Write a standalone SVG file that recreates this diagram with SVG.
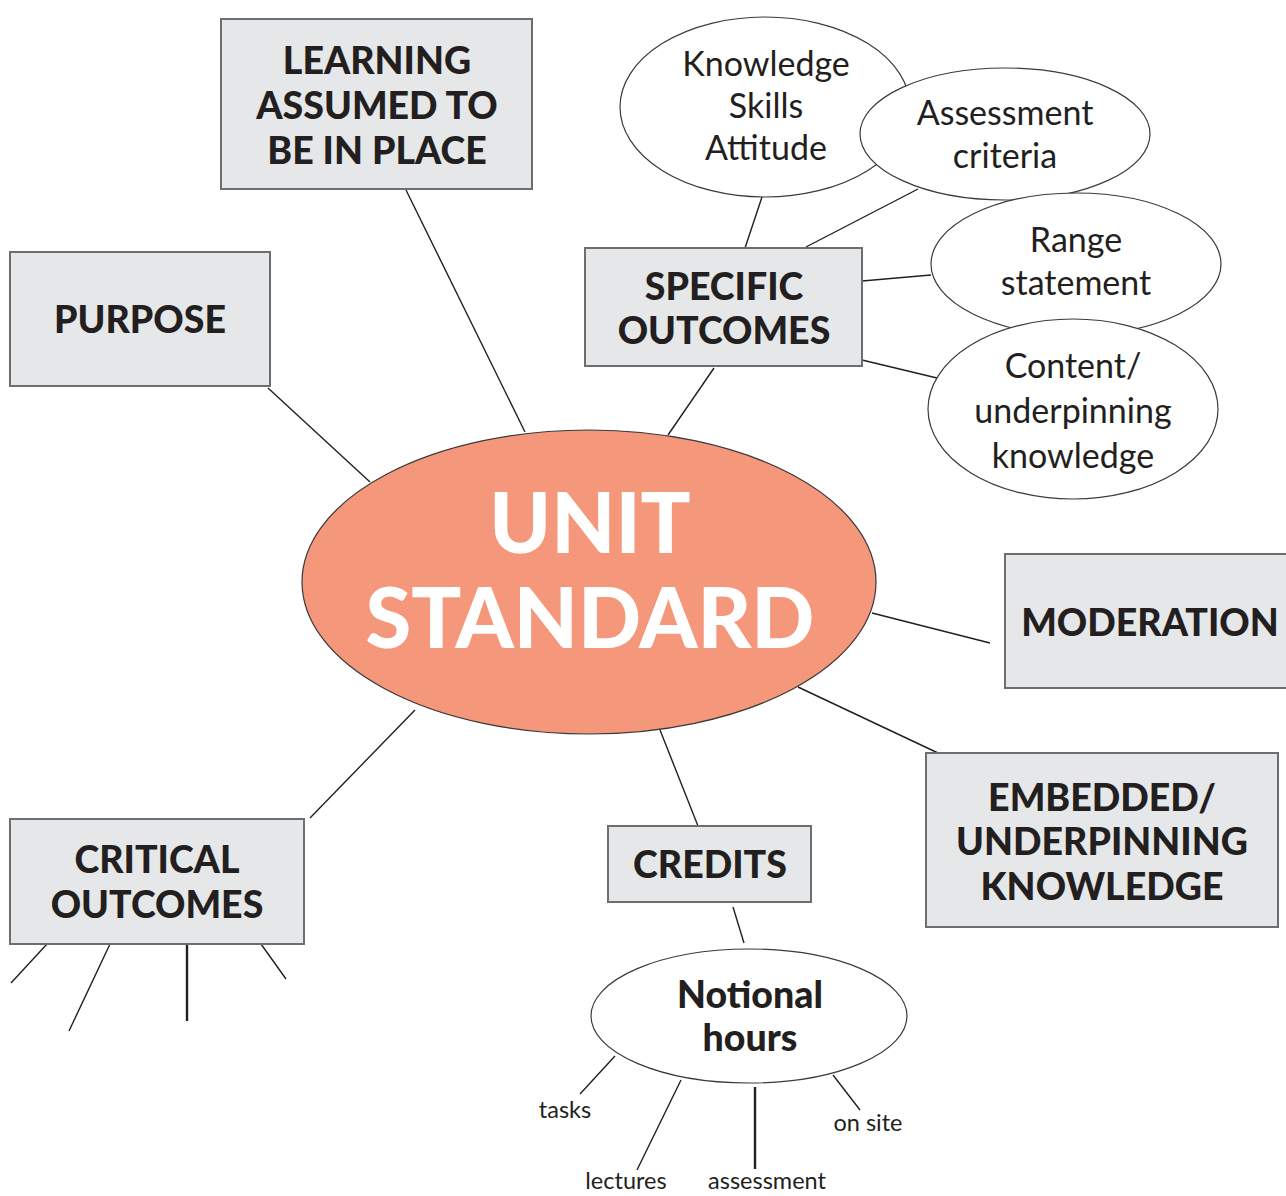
<svg xmlns="http://www.w3.org/2000/svg" width="1286" height="1196" viewBox="0 0 1286 1196">
<style>
.box{fill:#e6e7e8;stroke:#6d6e71;stroke-width:2}
.ell{fill:#fff;stroke:#3a3a3a;stroke-width:1.2}
.ln{stroke:#231f20;stroke-width:1.4;fill:none}
.thk{stroke:#231f20;stroke-width:2.4;fill:none}
.bt{font-family:Lato,"Open Sans",sans-serif;font-weight:900;font-size:37.5px;fill:#231f20;text-anchor:middle}
.rt{font-family:Lato,"Open Sans",sans-serif;font-weight:400;font-size:34px;fill:#231f20;text-anchor:middle}
.st{font-family:Lato,"Open Sans",sans-serif;font-weight:400;font-size:23.5px;fill:#231f20;text-anchor:middle}
.ut{font-family:Lato,"Open Sans",sans-serif;font-weight:900;font-size:83px;fill:#fff;text-anchor:middle}
</style>
<rect width="1286" height="1196" fill="#fff"/>
<g id="connectors">
<line class="ln" x1="406" y1="190" x2="525" y2="432"/>
<line class="ln" x1="268" y1="388" x2="370" y2="482"/>
<line class="ln" x1="714" y1="368" x2="668" y2="435"/>
<line class="ln" x1="762" y1="197" x2="745" y2="248"/>
<line class="ln" x1="918" y1="189" x2="806" y2="247"/>
<line class="ln" x1="862" y1="281" x2="931" y2="275"/>
<line class="ln" x1="862" y1="360" x2="937" y2="378"/>
<line class="ln" x1="872" y1="613" x2="990" y2="643"/>
<line class="ln" x1="798" y1="687" x2="938" y2="753"/>
<line class="ln" x1="660" y1="730" x2="698" y2="826"/>
<line class="ln" x1="415" y1="710" x2="310" y2="818"/>
<line class="ln" x1="733" y1="907" x2="744" y2="943"/>
<line class="ln" x1="47" y1="944" x2="11" y2="983"/>
<line class="ln" x1="110" y1="944" x2="69" y2="1031"/>
<line class="thk" x1="187" y1="944" x2="187" y2="1021"/>
<line class="ln" x1="261" y1="944" x2="286" y2="979"/>
<line class="ln" x1="615" y1="1056" x2="580" y2="1094"/>
<line class="ln" x1="681" y1="1080" x2="637" y2="1170"/>
<line class="thk" x1="755" y1="1087" x2="755" y2="1169"/>
<line class="ln" x1="833" y1="1075" x2="860" y2="1110"/>
</g>
<g id="unit-standard">
<ellipse cx="589" cy="582" rx="287" ry="152" fill="#f5977a" stroke="#3a3a3a" stroke-width="1.2"/>
<text class="ut" x="590" y="553">UNIT</text>
<text class="ut" x="590" y="648">STANDARD</text>
</g>
<g id="learning-assumed">
<rect class="box" x="221" y="19" width="311" height="170"/>
<text class="bt" x="377" y="74">LEARNING</text>
<text class="bt" x="377" y="119">ASSUMED TO</text>
<text class="bt" x="377" y="164">BE IN PLACE</text>
</g>
<g id="purpose">
<rect class="box" x="10" y="252" width="260" height="134"/>
<text class="bt" x="140" y="333">PURPOSE</text>
</g>
<g id="specific-outcomes">
<rect class="box" x="585" y="248" width="277" height="118"/>
<text class="bt" x="724" y="300">SPECIFIC</text>
<text class="bt" x="724" y="344">OUTCOMES</text>
</g>
<g id="knowledge-skills">
<ellipse class="ell" cx="765" cy="107" rx="145" ry="90"/>
<text class="rt" x="766" y="76">Knowledge</text>
<text class="rt" x="766" y="118">Skills</text>
<text class="rt" x="766" y="160">Attitude</text>
</g>
<g id="assessment-criteria">
<ellipse class="ell" cx="1005" cy="134" rx="145" ry="66"/>
<text class="rt" x="1005" y="125">Assessment</text>
<text class="rt" x="1005" y="168">criteria</text>
</g>
<g id="range-statement">
<ellipse class="ell" cx="1076" cy="264" rx="145" ry="71"/>
<text class="rt" x="1076" y="252">Range</text>
<text class="rt" x="1076" y="295">statement</text>
</g>
<g id="content-knowledge">
<ellipse class="ell" cx="1073" cy="409" rx="145" ry="90"/>
<text class="rt" x="1073" y="378">Content/</text>
<text class="rt" x="1073" y="423">underpinning</text>
<text class="rt" x="1073" y="468">knowledge</text>
</g>
<g id="moderation">
<rect class="box" x="1005" y="554" width="290" height="134"/>
<text class="bt" x="1150" y="636">MODERATION</text>
</g>
<g id="embedded-knowledge">
<rect class="box" x="926" y="753" width="352" height="174"/>
<text class="bt" x="1102" y="811">EMBEDDED/</text>
<text class="bt" x="1102" y="855">UNDERPINNING</text>
<text class="bt" x="1102" y="900">KNOWLEDGE</text>
</g>
<g id="credits">
<rect class="box" x="608" y="826" width="203" height="76"/>
<text class="bt" x="710" y="878">CREDITS</text>
</g>
<g id="critical-outcomes">
<rect class="box" x="10" y="819" width="294" height="125"/>
<text class="bt" x="157" y="873">CRITICAL</text>
<text class="bt" x="157" y="918">OUTCOMES</text>
</g>
<g id="notional-hours">
<ellipse class="ell" cx="749" cy="1016" rx="158" ry="67"/>
<text class="bt" x="750" y="1008">Notional</text>
<text class="bt" x="750" y="1051">hours</text>
</g>
<g id="labels">
<text class="st" x="565" y="1118">tasks</text>
<text class="st" x="626" y="1189">lectures</text>
<text class="st" x="767" y="1189">assessment</text>
<text class="st" x="868" y="1131">on site</text>
</g>
</svg>
